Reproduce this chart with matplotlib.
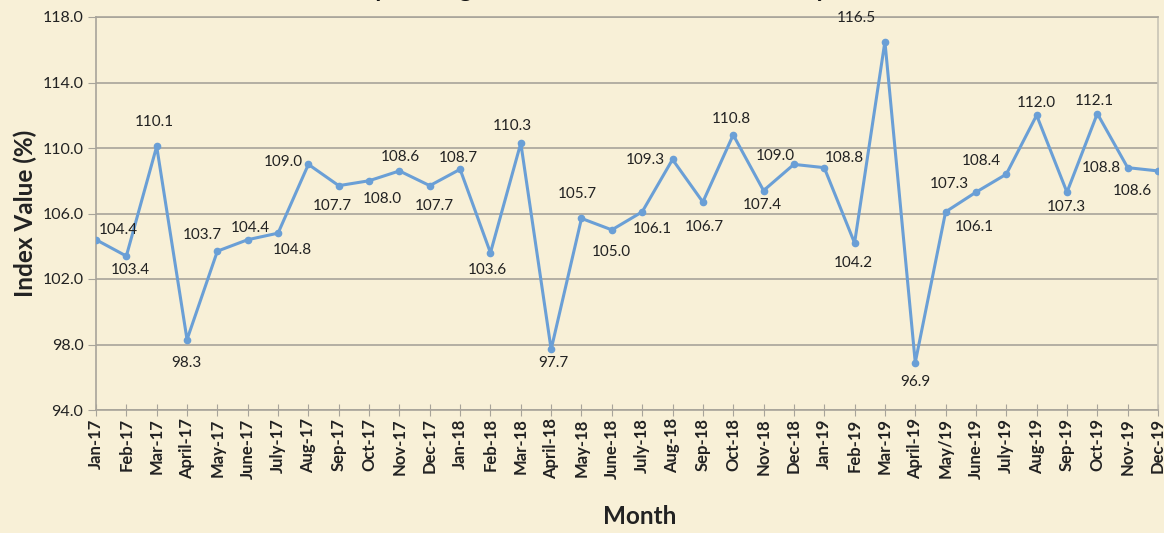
import matplotlib
matplotlib.use("Agg")
import matplotlib.pyplot as plt

months = ["Jan-17", "Feb-17", "Mar-17", "April-17", "May-17", "June-17", "July-17", "Aug-17",
          "Sep-17", "Oct-17", "Nov-17", "Dec-17", "Jan-18", "Feb-18", "Mar-18", "April-18",
          "May-18", "June-18", "July-18", "Aug-18", "Sep-18", "Oct-18", "Nov-18", "Dec-18",
          "Jan-19", "Feb-19", "Mar-19", "April-19", "May/19", "June-19", "July-19", "Aug-19",
          "Sep-19", "Oct-19", "Nov-19", "Dec-19"]
index_values = [104.4, 103.4, 110.1, 98.3, 103.7, 104.4, 104.8, 109.0,
                107.7, 108.0, 108.6, 107.7, 108.7, 103.6, 110.3, 97.7,
                105.7, 105.0, 106.1, 109.3, 106.7, 110.8, 107.4, 109.0,
                108.8, 104.2, 116.5, 96.9, 106.1, 107.3, 108.4, 112.0,
                107.3, 112.1, 108.8, 108.6]
y_ticks = [94.0, 98.0, 102.0, 106.0, 110.0, 114.0, 118.0]

# label offsets in pixels (dx right, dy down as in image)
label_offsets = [(22, -10), (4, 14), (-2, -24), (-1, 23), (-15, -16), (3, -12), (14, 17), (-25, -2),
                 (-6, 20), (13, 18), (1, -14), (5, 20), (-2, -11), (-3, 17), (-8, -17), (2, 14),
                 (-4, -24), (0, 22), (10, 17), (-27, 1), (1, 25), (-2, -16), (-1, 14), (-19, -8),
                 (20, -10), (-1, 20), (-29, -24), (0, 19), (29, 15), (-27, -8), (-25, -13), (0, -12),
                 (-1, 15), (-3, -13), (-26, 0), (-26, 20)]

BG = "#f8f0d7"
LINE = "#6a9fd6"
GRID = "#a8a49a"
TXT = "#222222"

fig = plt.figure(figsize=(11.64, 5.33), dpi=100, facecolor=BG)
ax = fig.add_axes([96 / 1164, 1 - 410 / 533, (1158 - 96) / 1164, (410 - 17) / 533])
ax.set_facecolor(BG)

x = list(range(len(months)))
ax.plot(x, index_values, color=LINE, lw=2.2, marker="o", ms=4.5, zorder=3)

for xi, v, (dx, dy) in zip(x, index_values, label_offsets):
    ax.annotate(f"{v:.1f}", (xi, v), xytext=(dx, -dy), textcoords="offset pixels",
                ha="center", va="center", fontsize=11, family="Lato", color=TXT, zorder=4)

ax.set_xlim(0, len(months) - 1)
ax.set_ylim(94, 118)
ax.set_yticks(y_ticks)
ax.set_yticklabels([f"{t:.1f}" for t in y_ticks], family="Lato", fontsize=11.5, color=TXT)
ax.set_xticks(x)
ax.set_xticklabels(months, rotation=90, family="Lato", fontweight="bold", fontsize=12, color=TXT)
ax.tick_params(axis="x", direction="inout", length=8, color=GRID, pad=2)
ax.tick_params(axis="y", direction="out", length=6, color=GRID, pad=3)

ax.grid(axis="y", color=GRID, lw=1.2, zorder=1)
for s in ["left", "bottom", "right", "top"]:
    ax.spines[s].set_color(GRID)
    ax.spines[s].set_linewidth(1.2)
ax.spines["right"].set_color("#c9c4b6")

ax.set_ylabel("Index Value (%)", family="Lato", fontweight="bold", fontsize=17.5, color=TXT, labelpad=4)
fig.text(640 / 1164, 1 - 517 / 533, "Month", family="Lato", fontweight="bold", fontsize=17.5,
         color=TXT, ha="center", va="center")
# title sits mostly above the canvas, as in the reference (only descenders visible)
fig.text(560 / 1164, 1 + 3 / 533, "Monthly Average Index of Construction Activity", family="Lato",
         fontweight="bold", fontsize=18, color="#111111", ha="center", va="baseline")

fig.savefig("out.png", dpi=100, facecolor=BG)
